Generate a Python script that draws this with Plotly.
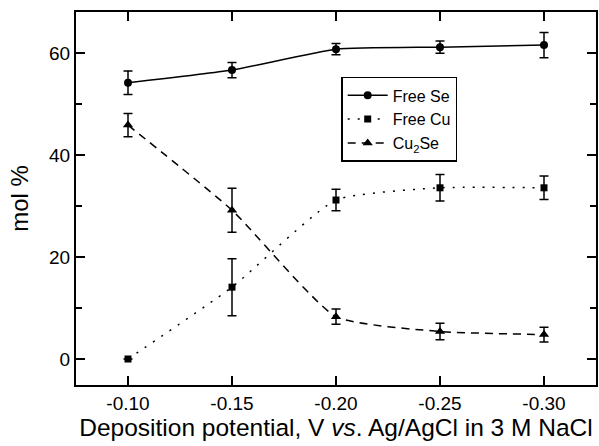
import plotly.graph_objects as go

potential = [-0.10, -0.15, -0.20, -0.25, -0.30]

free_se = [54.2, 56.7, 60.8, 61.2, 61.6]
free_se_err = [2.3, 1.5, 1.1, 1.2, 2.5]

free_cu = [0.0, 14.1, 31.2, 33.6, 33.6]
free_cu_err = [0.0, 5.6, 2.1, 2.6, 2.3]

cu2se = [45.9, 29.2, 8.3, 5.4, 4.8]
cu2se_err = [2.3, 4.3, 1.5, 1.6, 1.45]

names = ["Free Se", "Free Cu", "Cu<sub>2</sub>Se"]

FONT = "Liberation Sans, Arial, sans-serif"

fig = go.Figure()

def add(y, err, name, symbol, msize, dash):
    fig.add_trace(go.Scatter(
        x=potential, y=y, name=name, mode="lines+markers",
        line=dict(color="black", width=1.5, dash=dash, shape="spline", smoothing=0.5),
        marker=dict(symbol=symbol, size=msize, color="black"),
        error_y=dict(type="data", array=err, visible=True, color="black",
                     thickness=1.5, width=4.5),
    ))

add(free_se, free_se_err, names[0], "circle", 8, "solid")
add(free_cu, free_cu_err, names[1], "square", 7, "2px,8px")
add(cu2se, cu2se_err, names[2], "triangle-up", 9, "8px,6px")

axis_common = dict(
    showline=True, linecolor="black", linewidth=2, mirror="ticks",
    ticks="inside", tickcolor="black", tickwidth=1.5, ticklen=9,
    showgrid=False, zeroline=False,
    tickfont=dict(family=FONT, size=19, color="black"),
)

fig.update_xaxes(
    **axis_common,
    range=[-0.075, -0.325],
    tickvals=[-0.10, -0.15, -0.20, -0.25, -0.30],
    ticktext=["-0.10", "-0.15", "-0.20", "-0.25", "-0.30"],
    title=dict(text="Deposition potential, V <i>vs</i>. Ag/AgCl in 3 M NaCl",
               font=dict(family=FONT, size=24.5, color="black"), standoff=6),
)
fig.update_yaxes(
    **axis_common,
    range=[-5.1, 68.1],
    tickvals=[0, 20, 40, 60],
    minor=dict(tickvals=[10, 30, 50], ticks="inside", ticklen=6,
               tickcolor="black", tickwidth=1.5),
    title=dict(text="mol %", font=dict(family=FONT, size=24, color="black"), standoff=14),
)

fig.update_layout(
    width=599, height=446,
    margin=dict(l=76, r=1, t=12, b=61),
    plot_bgcolor="white", paper_bgcolor="white",
    showlegend=True,
    legend=dict(
        x=0.51, y=0.826, xanchor="left", yanchor="top",
        bordercolor="black", borderwidth=1.5, bgcolor="white",
        font=dict(family=FONT, size=16, color="black"),
        itemwidth=40, tracegroupgap=0,
    ),
)

fig.write_html("out.html")
